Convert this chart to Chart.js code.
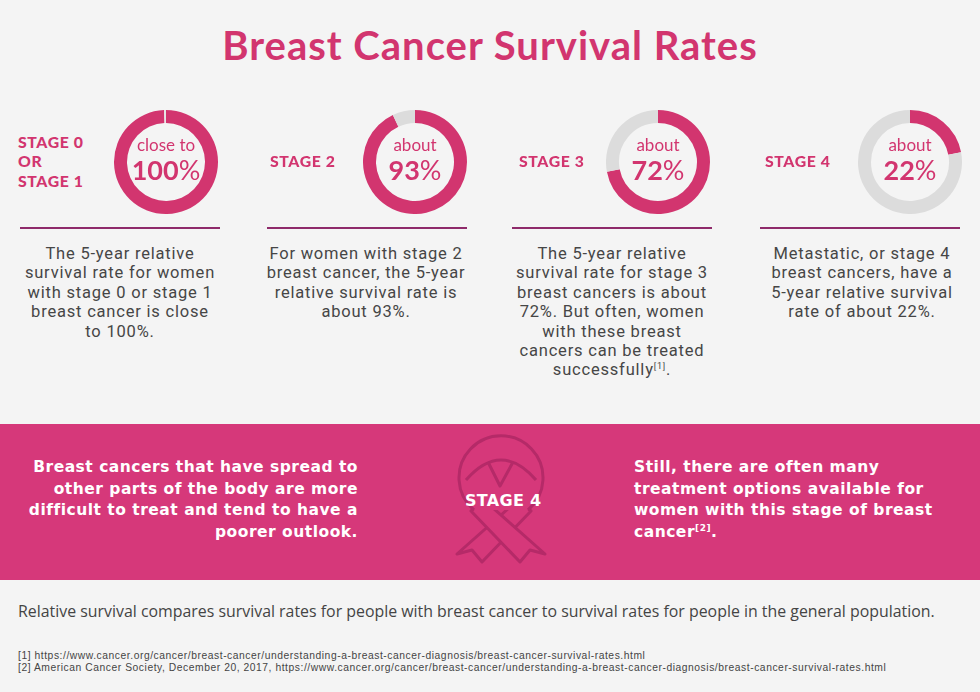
<!DOCTYPE html>
<html>
<head>
<meta charset="utf-8">
<script src="https://cdn.jsdelivr.net/npm/chart.js@4.4.1/dist/chart.umd.min.js"></script>
<style>
  html, body { margin: 0; padding: 0; background: #f4f4f4; }
  #page { position: relative; width: 980px; height: 692px; overflow: hidden; background: #f4f4f4; }
  .abs { position: absolute; white-space: nowrap; }
  #title { left: 0; width: 980px; top: 21px; text-align: center; font: 700 40px "Lato", sans-serif; letter-spacing: 1px; color: #d2356f; }
  .stage { font: 900 15.8px "Lato", sans-serif; color: #d2356f; line-height: 19.2px; height: 19.2px; letter-spacing: 0.6px; }
  .rule { height: 2px; background: #8e2a6a; width: 200px; }
  .para { width: 240px; text-align: center; font: 400 16.5px "Roboto", sans-serif; letter-spacing: 0.8px; color: #464646; line-height: 19.4px; height: 19.4px; }
  .para sup, .band sup { font-size: 9px; line-height: 0; }
  .ring { width: 104px; height: 104px; }
  .ctext { width: 104px; text-align: center; color: #d2356f; font-family: "Lato", sans-serif; }
  .ctext .pre { font-size: 17px; font-weight: 400; line-height: 20px; }
  .ctext .val { font-size: 27px; font-weight: 700; line-height: 30px; }
  .ctext .val span { font-weight: 400; }
  #band { left: 0; top: 424px; width: 980px; height: 156px; background: #d6387a; }
  .band { font: 700 15.5px "DejaVu Sans", sans-serif; letter-spacing: 0.5px; color: #fff; line-height: 21.7px; height: 21.7px; }
  #note { left: 18px; top: 600px; font: 400 15.9px "Open Sans", sans-serif; color: #444; }
  .foot { left: 18px; font: 400 10.3px "Liberation Sans", sans-serif; letter-spacing: 0.55px; color: #444; line-height: 12px; height: 12px; }
</style>
</head>
<body>
<div id="page"></div>
<script>
// survival values read from the rings (percent)
const stageNames = [["STAGE 0", "OR", "STAGE 1"], ["STAGE 2"], ["STAGE 3"], ["STAGE 4"]];
const survival = [99.4, 93, 72, 22];
const prefixes = ["close to", "about", "about", "about"];
const shownValues = ["100", "93", "72", "22"];
const descriptions = [
  ["The 5-year relative", "survival rate for women", "with stage 0 or stage 1", "breast cancer is close", "to 100%."],
  ["For women with stage 2", "breast cancer, the 5-year", "relative survival rate is", "about 93%."],
  ["The 5-year relative", "survival rate for stage 3", "breast cancers is about", "72%. But often, women", "with these breast", "cancers can be treated", "successfully<sup>[1]</sup>."],
  ["Metastatic, or stage 4", "breast cancers, have a", "5-year relative survival", "rate of about 22%."]
];
const bandLeft = ["Breast cancers that have spread to", "other parts of the body are more", "difficult to treat and tend to have a", "poorer outlook."];
const bandRight = ["Still, there are often many", "treatment options available for", "women with this stage of breast", "cancer<sup>[2]</sup>."];
const footnotes = [
  "[1] https://www.cancer.org/cancer/breast-cancer/understanding-a-breast-cancer-diagnosis/breast-cancer-survival-rates.html",
  "[2] American Cancer Society, December 20, 2017, https://www.cancer.org/cancer/breast-cancer/understanding-a-breast-cancer-diagnosis/breast-cancer-survival-rates.html"
];

const pink = "#d2356f";
const grey = "#dcdcdc";

// column geometry
const ringX = [166, 415, 658, 910];
const ringY = 162;
const labelX = [18, 270, 519, 765];
const ruleX = [20, 267, 512, 760];
const paraX = [120, 366, 612, 862];

const page = document.getElementById("page");
function add(cls, html, style) {
  const d = document.createElement("div");
  d.className = "abs " + cls;
  d.innerHTML = html;
  Object.assign(d.style, style);
  page.appendChild(d);
  return d;
}

add("", "Breast Cancer Survival Rates", {}).id = "title";

stageNames.forEach((name, i) => {
  name.forEach((line, k) => {
    add("stage", line, { left: labelX[i] + "px", top: (ringY - 1 - name.length * 19.2 / 2 + k * 19.2) + "px" });
  });
  add("rule", "", { left: ruleX[i] + "px", top: "227px" });
  descriptions[i].forEach((line, k) => {
    add("para", line, { left: (paraX[i] - 120) + "px", top: (244 + k * 19.4) + "px" });
  });

  const canvas = document.createElement("canvas");
  canvas.className = "abs ring";
  canvas.width = 104; canvas.height = 104;
  canvas.style.left = (ringX[i] - 52) + "px";
  canvas.style.top = (ringY - 52) + "px";
  page.appendChild(canvas);

  new Chart(canvas.getContext("2d"), {
    type: "doughnut",
    data: {
      labels: ["survival", "rest"],
      datasets: [{
        data: [survival[i], 100 - survival[i]],
        backgroundColor: [pink, i === 0 ? "#e6e6e6" : grey],
        borderWidth: 0,
        hoverOffset: 0
      }]
    },
    options: {
      responsive: false,
      animation: false,
      cutout: "75%",
      layout: { padding: 0 },
      plugins: { legend: { display: false }, tooltip: { enabled: false } }
    }
  });

  add("ctext", '<div class="pre">' + prefixes[i] + '</div><div class="val">' + shownValues[i] + '<span>%</span></div>',
    { left: (ringX[i] - 52) + "px", top: (ringY - 27) + "px" });
});

// pink band
add("", "", {}).id = "band";
const ribbon = '<svg width="120" height="140" viewBox="440 430 120 140" fill="none" stroke="#b52a68" stroke-width="3" stroke-linejoin="round">' +
  '<polygon points="518,500 531,511 482,562 472,550 457,554" fill="#d6387a"/>' +
  '<polygon points="484,500 471,511 520,562 530,550 545,554" fill="#d6387a"/>' +
  '<path d="M 474 510 A 42 42 0 1 1 528 510" fill="#d6387a"/>' +
  '<path d="M 466 480 Q 501 440 536 480"/>' +
  '<path d="M 488 462 L 500 486 L 513 462"/>' +
  '</svg>';
add("", ribbon, { left: "440px", top: "430px" });
add("band", "STAGE 4", { left: "465px", top: "490px", fontSize: "16px", letterSpacing: "0.3px" });
bandLeft.forEach((line, k) => {
  add("band", line, { right: (980 - 358) + "px", top: (457 + k * 21.7) + "px", textAlign: "right" });
});
bandRight.forEach((line, k) => {
  add("band", line, { left: "634px", top: (457 + k * 21.7) + "px" });
});

add("", "Relative survival compares survival rates for people with breast cancer to survival rates for people in the general population.", {}).id = "note";
footnotes.forEach((line, k) => {
  add("foot", line, { top: (650 + k * 12) + "px" });
});
</script>
</body>
</html>
